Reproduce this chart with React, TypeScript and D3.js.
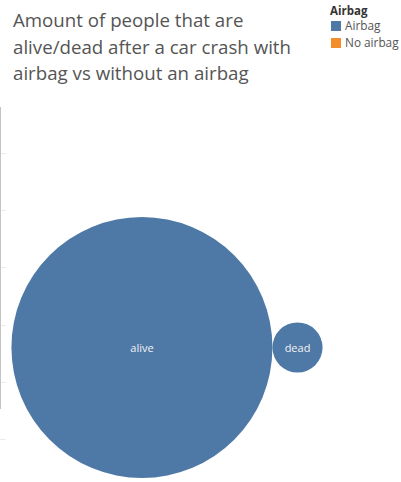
import React from "react";
import * as d3 from "d3";

const titleLines = [
  "Amount of people that are",
  "alive/dead after a car crash with",
  "airbag vs without an airbag",
];
const legendTitle = "Airbag";
const legendItems = ["Airbag", "No airbag"];
const legendColors = ["#4e79a7", "#f28e2b"];
const categories = ["alive", "dead"];
const airbagGroup = ["Airbag", "Airbag"];
const counts = [13550, 500];
const gridTicks = [153, 210, 267, 325, 382, 439];

export default function App() {
  const W = 401;
  const H = 482;
  const rScale = d3.scaleSqrt().domain([0, d3.max(counts) as number]).range([0, 130.5]);
  const nodes = counts.map((v, i) => ({ r: rScale(v), x: 0, y: 0, name: categories[i], group: airbagGroup[i] }));
  d3.packSiblings(nodes as any);
  const enc = d3.packEnclose(nodes as any) as any;
  const cx = 167;
  const cy = 347.5;
  const color = d3.scaleOrdinal<string, string>().domain(legendItems).range(legendColors);

  return (
    <svg
      width={W}
      height={H}
      style={{ position: "absolute", left: 0, top: 0, background: "#fff" }}
    >
      {gridTicks.map((y, i) => (
        <line key={i} x1={0} x2={6} y1={y + 0.5} y2={y + 0.5} stroke="#ececec" strokeWidth={1} />
      ))}
      <line x1={0.5} x2={0.5} y1={107} y2={409} stroke="#c4c4c4" strokeWidth={1} />
      <g transform={`translate(${cx - enc.x},${cy - enc.y})`}>
        {nodes.map((n, i) => (
          <g key={i}>
            <circle cx={n.x} cy={n.y} r={n.r} fill={color(n.group)} />
            <text
              x={n.x}
              y={n.y + 4}
              textAnchor="middle"
              fill="#f2f2f2"
              fontFamily="'Open Sans', sans-serif"
              fontSize={11}
            >
              {n.name}
            </text>
          </g>
        ))}
      </g>
      <g fontFamily="'Open Sans', sans-serif" fill="#555">
        {titleLines.map((t, i) => (
          <text key={i} x={13} y={27 + i * 26.5} fontSize={18.7}>
            {t}
          </text>
        ))}
      </g>
      <g fontFamily="'Open Sans', sans-serif">
        <text x={330} y={15} fontSize={11.5} fontWeight="bold" fill="#333">
          {legendTitle}
        </text>
        {legendItems.map((t, i) => (
          <g key={i}>
            <rect x={331} y={21 + i * 17} width={10} height={10} fill={legendColors[i]} />
            <text x={345} y={30 + i * 17} fontSize={11.8} fill="#555">
              {t}
            </text>
          </g>
        ))}
      </g>
    </svg>
  );
}
